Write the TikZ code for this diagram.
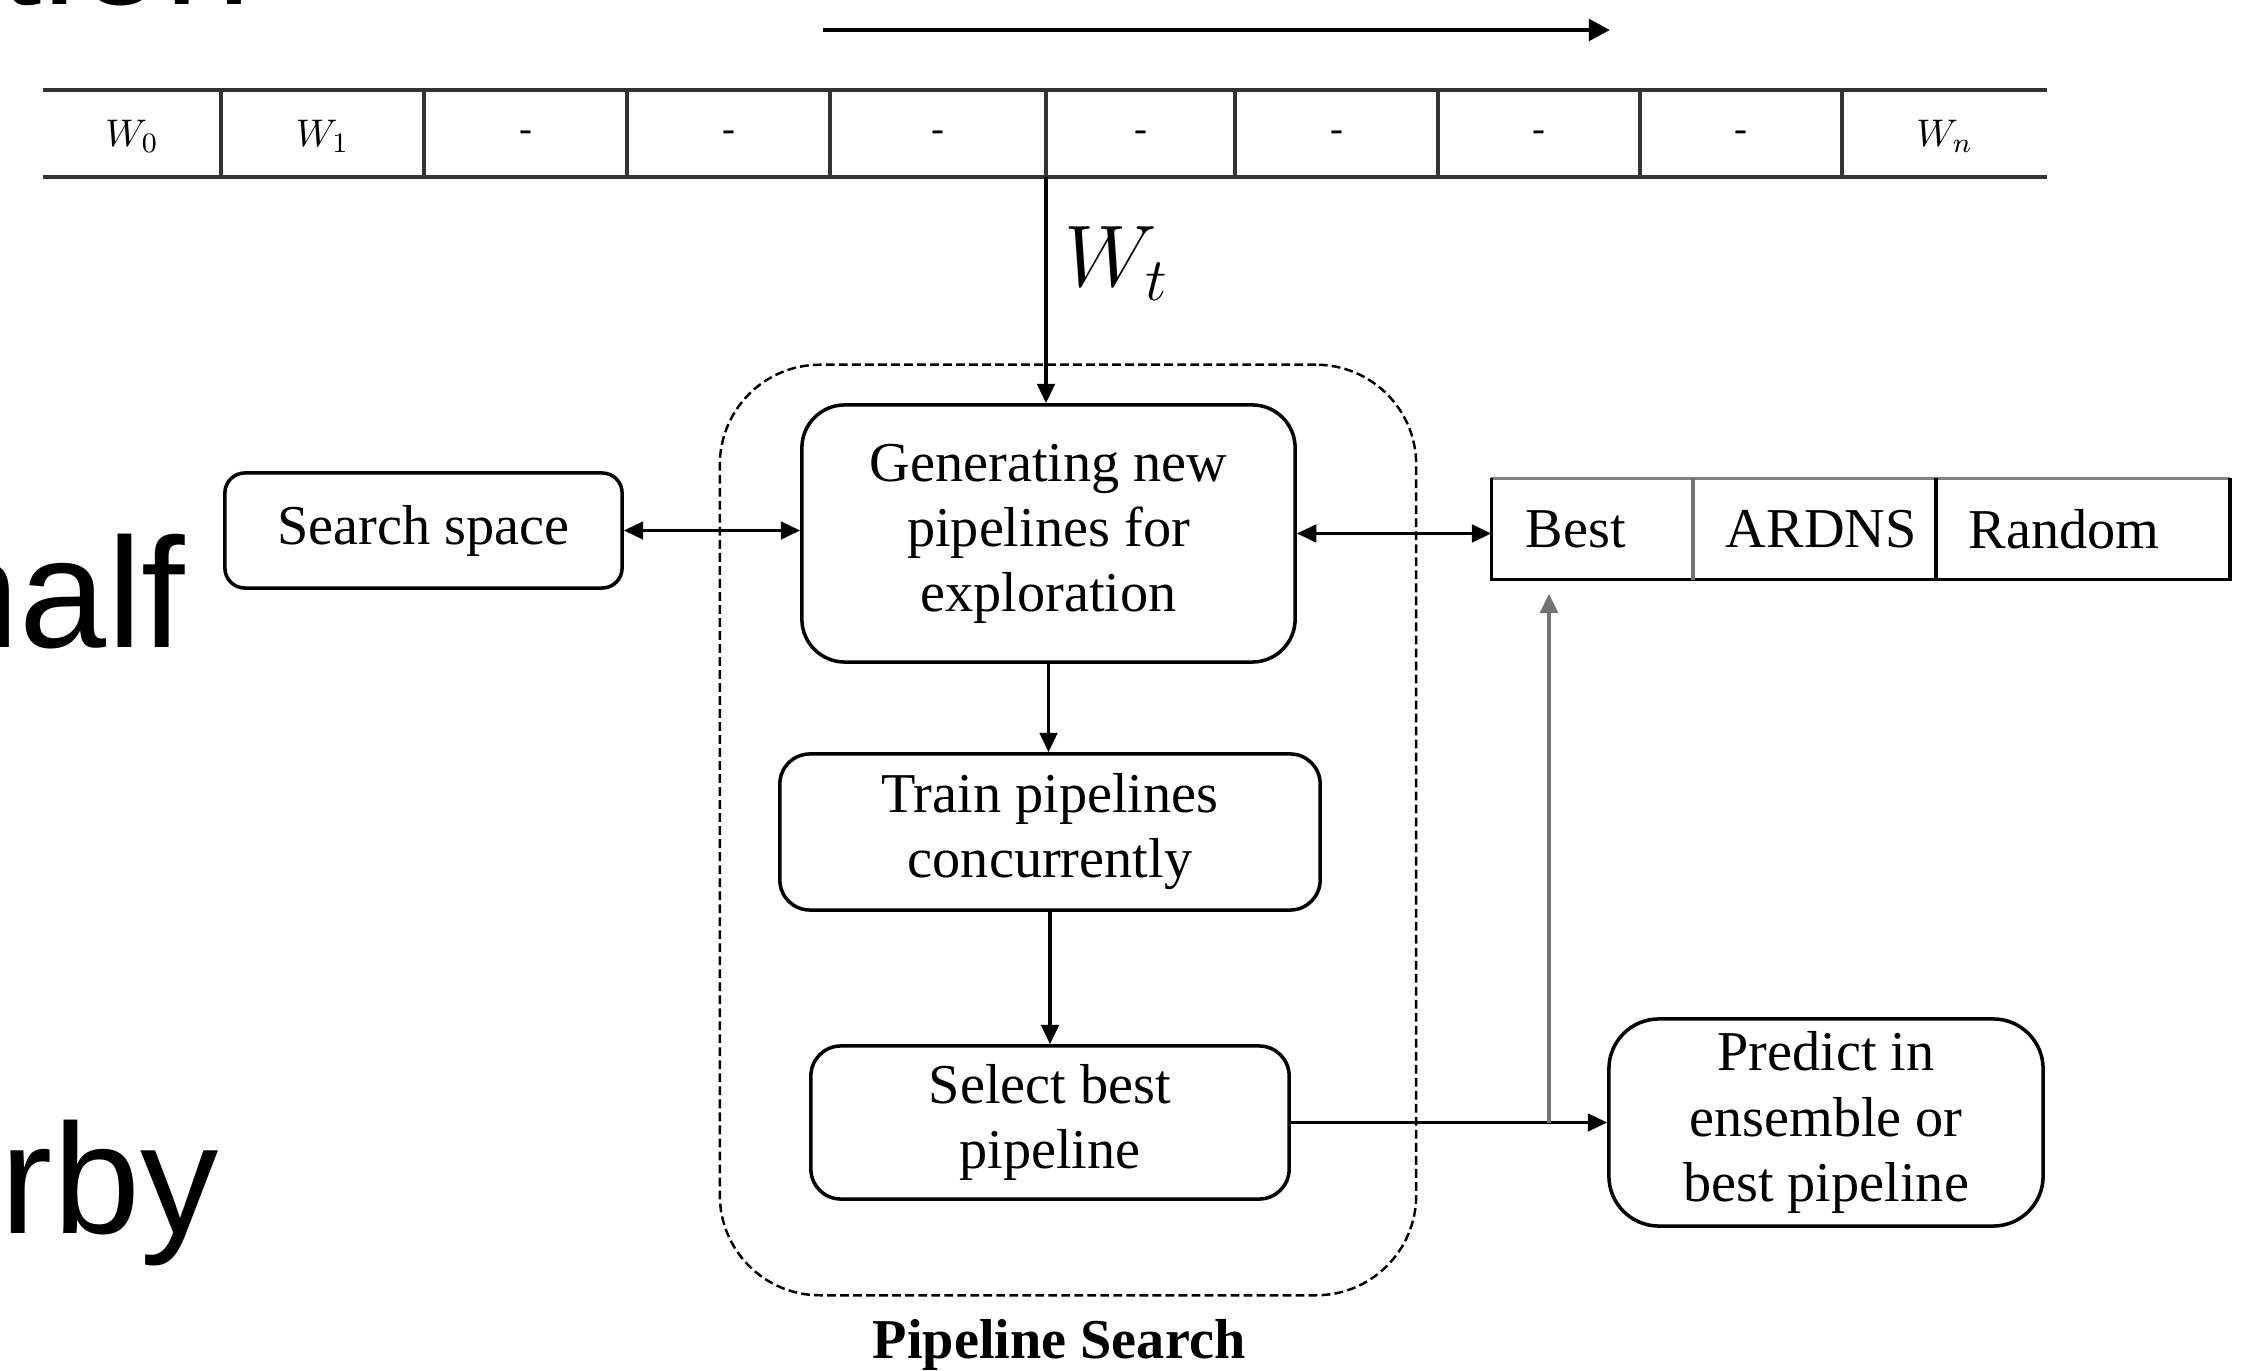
\documentclass[tikz,border=0pt]{standalone}
\usepackage{fontspec}
\setmainfont{Liberation Serif}
\newfontfamily\slidefont{Liberation Sans}
\usetikzlibrary{arrows.meta}

\begin{document}
\begin{tikzpicture}[x=0.01cm,y=-0.01cm,
  slide/.style={font=\slidefont\fontsize{44.5}{50}\selectfont, inner sep=0pt},
  box/.style={draw, line width=1pt, rounded corners=#1, align=center, inner sep=0pt,
    font=\fontsize{16}{18.5}\selectfont},
  box/.default=4pt,
  cellbox/.style={inner sep=0pt, inner xsep=0.34cm, minimum height=1cm, align=left,
    font=\fontsize{16}{18.5}\selectfont},
  wtext/.style={inner sep=0pt, font=\fontsize{11}{13}\selectfont},
  rowline/.style={line width=1.3pt, black!80},
  conn/.style={line width=0.9pt},
  tip/.style={-{Triangle[length=5.5pt,width=5pt]}},
  dtip/.style={{Triangle[length=5.5pt,width=5pt]}-{Triangle[length=5.5pt,width=5pt]}}
]
\useasboundingbox (0,0) rectangle (2243,1371);

% large slide words partly hidden behind the figure
\begin{scope}
  \clip (0,0) rectangle (2243,1371);
  \node[slide, anchor=base east] (fragA) at (252,5) {ation};
  \node[slide, anchor=base east] (fragB) at (186,648) {half};
  \node[slide, anchor=base east] (fragC) at (219,1233) {rby};
\end{scope}

% time direction
\coordinate (ta) at (823,30);
\coordinate (tb) at (1610,30);
\draw[line width=1.3pt, -{Triangle[length=6pt,width=6pt]}] (ta) -- (tb);

% window strip W_0 ... W_n
\draw[rowline] (43,90) -- (2047,90);
\draw[rowline] (43,177) -- (2047,177);
\foreach \x in {221,424,627,830,1046,1235,1438,1640,1842}
  \draw[rowline] (\x,90) -- (\x,177);
\foreach \a/\b/\t [count=\i] in {43/221/{$W_0$}, 221/424/{$W_1$}, 424/627/-, 627/830/-,
    830/1046/-, 1046/1235/-, 1235/1438/-, 1438/1640/-, 1640/1842/-, 1842/2047/{$W_n$}}
  \node[wtext] (w\i) at ({(\a+\b)/2},136) {\t};

% current window
\coordinate (wt) at (1046,177);
\node[anchor=base west, inner sep=0pt, font=\fontsize{24}{28}\selectfont] (wtlabel) at (1064,287) {$W_t$};

% pipeline search group
\node[draw, dashed, dash pattern=on 2.5pt off 1.2pt, line width=0.7pt, rounded corners=1cm,
      minimum width=6.96cm, minimum height=9.30cm] (ps) at (1068,830) {};
\node[font=\bfseries\fontsize{16}{18.5}\selectfont, inner sep=0pt] (pslabel) at (1059,1345) {Pipeline Search};

\node[box=0.43cm, minimum width=4.93cm, minimum height=2.57cm] (gen) at (1048.5,533.5)
  {Generating new\\pipelines for\\exploration};
\node[box=0.3cm, minimum width=5.40cm, minimum height=1.56cm] (train) at (1050,832)
  {Train pipelines\\concurrently};
\node[box=0.3cm, minimum width=4.78cm, minimum height=1.53cm] (sel) at (1050,1122.5)
  {Select best\\pipeline};

\node[box=0.2cm, minimum width=3.97cm, minimum height=1.15cm] (search) at (423.5,530.5)
  {Search space};
\node[box=0.5cm, minimum width=4.34cm, minimum height=2.07cm] (pred) at (1826,1122.5)
  {Predict in\\ensemble or\\best pipeline};

% strategy table
\node[cellbox, text width=1.32cm] (best) at (1592,529) {Best};
\node[cellbox, text width=1.75cm] (ardns) at (1813.5,529) {ARDNS};
\node[cellbox, text width=2.26cm] (rand) at (2082,529) {Random};
\draw[line width=1pt, black!50] (best.north west) -- (rand.north east);
\draw[line width=1pt] (best.north west) -- (best.south west) -- (rand.south east) -- (rand.north east);
\draw[line width=1pt, black!55] (best.north east) -- (best.south east);
\draw[line width=1pt] (ardns.north east) -- (ardns.south east);

% connectors
\draw[conn, tip] (wt) -- (wt |- gen.north);
\draw[conn, dtip] (search.east) -- (search.east -| gen.west);
\draw[conn, dtip] (gen.east) -- (gen.east -| best.west);
\draw[conn, tip] (gen.south) -- (gen.south |- train.north);
\draw[conn, tip] (train.south) -- (train.south |- sel.north);
\draw[conn, tip] (sel.east) -- (pred.west);
\coordinate (br) at (1549,1122.5);
\draw[conn, tip, black!55, line width=1.1pt, shorten >=0.14cm] (br) -- (br |- best.south);

\end{tikzpicture}
\end{document}
